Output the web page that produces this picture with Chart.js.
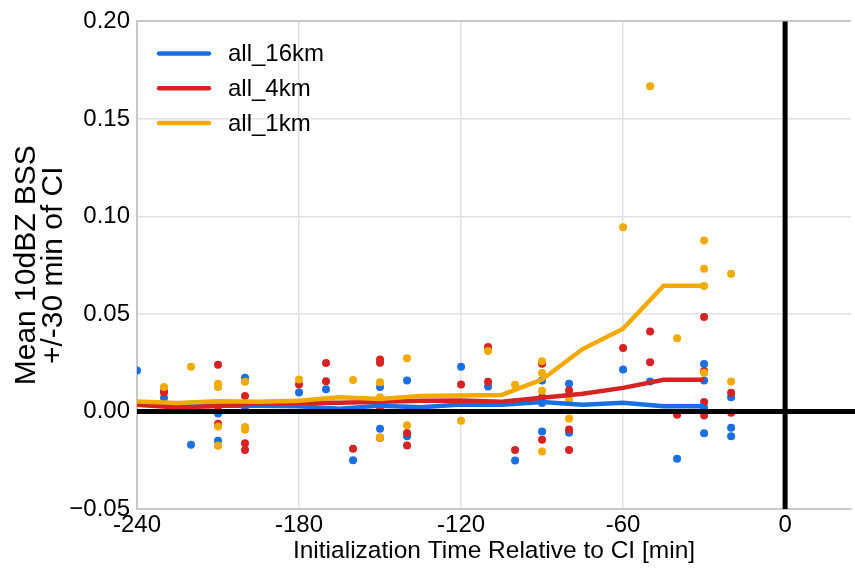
<!DOCTYPE html>
<html>
<head>
<meta charset="utf-8">
<script src="https://cdn.jsdelivr.net/npm/chart.js@4.4.1/dist/chart.umd.min.js"></script>
<style>
  html, body { margin: 0; padding: 0; background: #fff; }
  #c { display: block; }
</style>
</head>
<body>
<canvas id="c" width="855" height="568"></canvas>
<script>
// series names
const seriesNames = ['all_16km', 'all_4km', 'all_1km'];
const seriesColors = ['#1a6fe3', '#d62222', '#f2a900'];

// mean lines (15 min steps)
const lineX = [-240, -225, -210, -195, -180, -165, -150, -135, -120, -105, -90, -75, -60, -45, -30];
const blueLine = [0.0035, 0.003, 0.003, 0.003, 0.0027, 0.0014, 0.003, 0.0022, 0.0036, 0.0034, 0.0048, 0.0034, 0.0045, 0.0027, 0.0027];
const redLine = [0.0035, 0.002, 0.0028, 0.0042, 0.0045, 0.0045, 0.005, 0.0055, 0.0056, 0.005, 0.007, 0.0091, 0.0121, 0.0163, 0.0163];
const yellowLine = [0.0051, 0.0043, 0.0053, 0.005, 0.0055, 0.0073, 0.0064, 0.008, 0.0082, 0.0085, 0.0164, 0.032, 0.0424, 0.0645, 0.0645];

// individual cases [x, y]
const blueDots = [
  [-240, 0.021], [-230, 0.007], [-220, -0.017], [-210, -0.001], [-210, -0.015],
  [-200, 0.0173], [-200, 0.0022], [-180, 0.0097], [-170, 0.0114], [-160, -0.025],
  [-150, 0.0125], [-150, -0.0089], [-140, 0.0159], [-140, -0.0127], [-120, 0.0229],
  [-110, 0.0128], [-100, -0.0251], [-90, 0.0159], [-90, 0.0043], [-90, -0.0103],
  [-80, 0.0142], [-80, -0.0109], [-60, 0.0215], [-50, 0.0154], [-40, -0.0243],
  [-30, 0.0243], [-30, 0.0159], [-30, 0.002], [-30, -0.0111],
  [-20, 0.0073], [-20, -0.0084], [-20, -0.0127]
];
const redDots = [
  [-230, 0.0104], [-230, 0.0097], [-210, 0.024], [-210, 0.0026], [-210, -0.0063],
  [-200, 0.0079], [-200, -0.0163], [-200, -0.0197], [-180, 0.0138], [-170, 0.0248],
  [-170, 0.0155], [-160, -0.0191], [-150, 0.0267], [-150, 0.025], [-150, 0.0009],
  [-150, -0.0135], [-140, -0.011], [-140, -0.0174], [-120, 0.0138], [-110, 0.033],
  [-110, 0.0152], [-100, -0.0197], [-90, 0.0245], [-90, 0.0073], [-90, -0.0145],
  [-80, 0.0108], [-80, -0.0092], [-80, -0.0197], [-60, 0.0325], [-50, 0.041],
  [-50, 0.0253], [-40, -0.0017], [-30, 0.0484], [-30, 0.0207], [-30, 0.0048],
  [-30, -0.002], [-20, 0.0096], [-20, -0.0007]
];
const yellowDots = [
  [-230, 0.0125], [-220, 0.0229], [-210, 0.0142], [-210, 0.0125], [-210, -0.0077],
  [-210, -0.0176], [-200, 0.0152], [-200, -0.008], [-200, -0.0094], [-180, 0.0164],
  [-160, 0.0161], [-150, 0.015], [-150, 0.0073], [-150, -0.0132], [-140, 0.0273],
  [-140, 0.0015], [-140, -0.007], [-120, -0.0048], [-110, 0.031], [-100, 0.0137],
  [-90, 0.0258], [-90, 0.0197], [-90, 0.0106], [-90, -0.0205], [-80, 0.006],
  [-80, -0.0036], [-60, 0.0945], [-50, 0.1668], [-40, 0.0376], [-30, 0.0877],
  [-30, 0.0732], [-30, 0.0643], [-30, 0.0198], [-20, 0.0706], [-20, 0.0154]
];

// axis ticks
const xTicks = [-240, -180, -120, -60, 0];
const yTicks = [-0.05, 0, 0.05, 0.10, 0.15, 0.20];

const toPts = arr => arr.map(p => ({ x: p[0], y: p[1] }));
const toLine = ys => ys.map((y, i) => ({ x: lineX[i], y: y }));

function dotSet(i, arr) {
  return {
    label: seriesNames[i] + ' cases',
    data: toPts(arr),
    showLine: false,
    pointRadius: 4,
    pointBorderWidth: 0,
    pointBackgroundColor: seriesColors[i],
    order: 10 - i
  };
}
function lineSet(i, ys) {
  return {
    label: seriesNames[i],
    data: toLine(ys),
    showLine: true,
    borderColor: seriesColors[i],
    borderWidth: 4.5,
    pointRadius: 0,
    tension: 0,
    fill: false,
    order: 5 - i
  };
}

// black zero lines, drawn over the dots
const zeroLines = {
  id: 'zeroLines',
  afterDatasetsDraw(chart) {
    const { ctx, chartArea, scales } = chart;
    const y0 = scales.y.getPixelForValue(0);
    const x0 = scales.x.getPixelForValue(0);
    ctx.save();
    ctx.strokeStyle = '#000';
    ctx.lineWidth = 5;
    ctx.beginPath();
    ctx.moveTo(chartArea.left, y0);
    ctx.lineTo(chartArea.right + 4, y0);
    ctx.moveTo(x0, chartArea.top);
    ctx.lineTo(x0, chartArea.bottom);
    ctx.stroke();
    ctx.restore();
  }
};

// legend in the upper left of the plot
const cornerLegend = {
  id: 'cornerLegend',
  afterDraw(chart) {
    const { ctx, chartArea } = chart;
    ctx.save();
    ctx.font = '24px "Liberation Sans", Arial, sans-serif';
    ctx.textBaseline = 'middle';
    ctx.lineCap = 'round';
    seriesNames.forEach((name, i) => {
      const y = chartArea.top + 32 + i * 34.8;
      ctx.strokeStyle = seriesColors[i];
      ctx.lineWidth = 4.5;
      ctx.beginPath();
      ctx.moveTo(chartArea.left + 22, y);
      ctx.lineTo(chartArea.left + 72, y);
      ctx.stroke();
      ctx.fillStyle = '#000';
      ctx.fillText(name, chartArea.left + 91, y + 1);
    });
    ctx.restore();
  }
};

const font = { family: '"Liberation Sans", Arial, sans-serif', size: 24 };

new Chart(document.getElementById('c'), {
  type: 'scatter',
  data: {
    datasets: [
      lineSet(0, blueLine), lineSet(1, redLine), lineSet(2, yellowLine),
      dotSet(0, blueDots), dotSet(1, redDots), dotSet(2, yellowDots)
    ]
  },
  options: {
    responsive: false,
    animation: false,
    layout: { padding: { top: 21, right: 0, left: 0, bottom: 0 } },
    plugins: { legend: { display: false }, tooltip: { enabled: false } },
    scales: {
      x: {
        type: 'linear',
        min: -240,
        max: 24.4,
        afterBuildTicks: s => { s.ticks = xTicks.map(v => ({ value: v })); },
        afterFit: s => { s.height = 59; },
        grid: { color: '#e2e2e2', lineWidth: 1.5, drawTicks: false },
        border: { color: '#c8c8c8', width: 2 },
        ticks: { color: '#000', font: font, padding: 2, maxRotation: 0, callback: v => String(v) },
        title: { display: true, text: 'Initialization Time Relative to CI [min]', color: '#000', font: { family: font.family, size: 24.5 }, padding: { top: 0, bottom: 2 } }
      },
      y: {
        min: -0.05,
        max: 0.20,
        afterBuildTicks: s => { s.ticks = yTicks.map(v => ({ value: v })); },
        afterFit: s => { s.width = 137; },
        grid: {
          color: c => (c.tick && Math.abs(c.tick.value - 0.20) < 1e-9) ? '#c8c8c8' : '#e2e2e2',
          lineWidth: c => (c.tick && Math.abs(c.tick.value - 0.20) < 1e-9) ? 2 : 1.5,
          drawTicks: false
        },
        border: { color: '#c8c8c8', width: 2 },
        ticks: { color: '#000', font: font, padding: 7, callback: v => v.toFixed(2).replace('-', '\u2212') },
        title: { display: true, text: ['Mean 10dBZ BSS', '+/-30 min of CI'], color: '#000', font: { family: font.family, size: 30, lineHeight: 0.9 }, padding: { top: 13, bottom: 0 } }
      }
    }
  },
  plugins: [zeroLines, cornerLegend]
});
</script>
</body>
</html>
